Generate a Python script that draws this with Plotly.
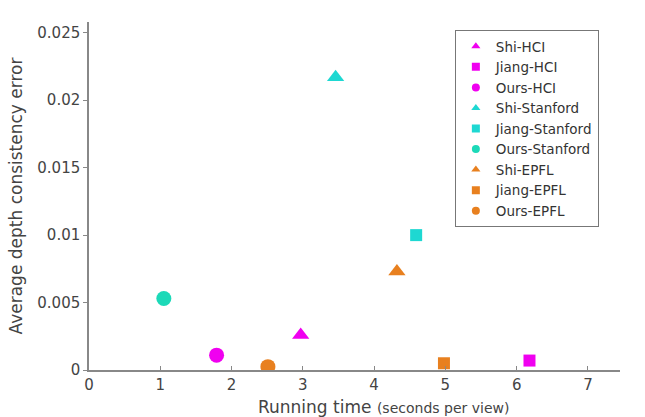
import plotly.graph_objects as go

series_names = ["Shi-HCI", "Jiang-HCI", "Ours-HCI",
                "Shi-Stanford", "Jiang-Stanford", "Ours-Stanford",
                "Shi-EPFL", "Jiang-EPFL", "Ours-EPFL"]
run_time = [2.97, 6.18, 1.79, 3.46, 4.59, 1.05, 4.32, 4.98, 2.51]
depth_err = [0.0026, 0.0007, 0.0011, 0.0217, 0.0100, 0.0053, 0.0073, 0.0005, 0.00025]
symbols = ["triangle-up", "square", "circle"] * 3
sizes = [15, 12, 15] * 3
colors = ["#F000F0"] * 3 + ["#1ED8D2", "#1ED8D2", "#1CD9B8"] + ["#E8801F"] * 3
x_ticks = [0, 1, 2, 3, 4, 5, 6, 7]
y_ticks = [0, 0.005, 0.01, 0.015, 0.02, 0.025]
y_tick_text = ["0", "0.005", "0.01", "0.015", "0.02", "0.025"]

fig = go.Figure()
for n, x, y, s, sz, c in zip(series_names, run_time, depth_err, symbols, sizes, colors):
    fig.add_trace(go.Scatter(x=[x], y=[y], mode="markers", name=n, showlegend=False,
                             legendgroup=n,
                             marker=dict(symbol=s, size=sz, color=c, line=dict(width=0))))
# legend entries with small symbols, as in the reference
for n, s, c in zip(series_names, symbols, colors):
    fig.add_trace(go.Scatter(x=[None], y=[None], mode="markers", name=n, legendgroup=n,
                             marker=dict(symbol=s, size=8, color=c, line=dict(width=0))))

font_family = "DejaVu Sans, Verdana, sans-serif"
fig.update_layout(
    width=645, height=417,
    margin=dict(l=89, r=25, t=22, b=47),
    plot_bgcolor="white", paper_bgcolor="white",
    font=dict(family=font_family, size=15, color="#333"),
    showlegend=True,
    legend=dict(x=0.689, y=0.977, xanchor="left", yanchor="top",
                bordercolor="#777", borderwidth=1, bgcolor="white",
                font=dict(size=13.5, color="#333"), itemsizing="trace",
                tracegroupgap=0, itemwidth=30),
    xaxis=dict(range=[0, 7.45], tickvals=x_ticks, showgrid=False, zeroline=False,
               showline=True, linecolor="#888", linewidth=1.5, automargin=False,
               ticks="inside", ticklen=4, tickcolor="#888",
               tickfont=dict(size=15, color="#444")),
    yaxis=dict(range=[0, 0.0258], tickvals=y_ticks, ticktext=y_tick_text, showgrid=False,
               zeroline=False, showline=True, linecolor="#888", linewidth=1.5, automargin=False,
               ticks="outside", ticklen=4, tickcolor="#888",
               tickfont=dict(size=15, color="#444"),
               title=dict(text="Average depth consistency error",
                          font=dict(size=17, color="#444"), standoff=10)),
    annotations=[dict(text="Running time <span style='font-size:14px'>(seconds per view)</span>",
                      xref="paper", yref="paper", x=0.555, y=-0.106,
                      xanchor="center", yanchor="middle", showarrow=False,
                      font=dict(size=17, color="#444"))],
)

fig.write_html("out.html")
